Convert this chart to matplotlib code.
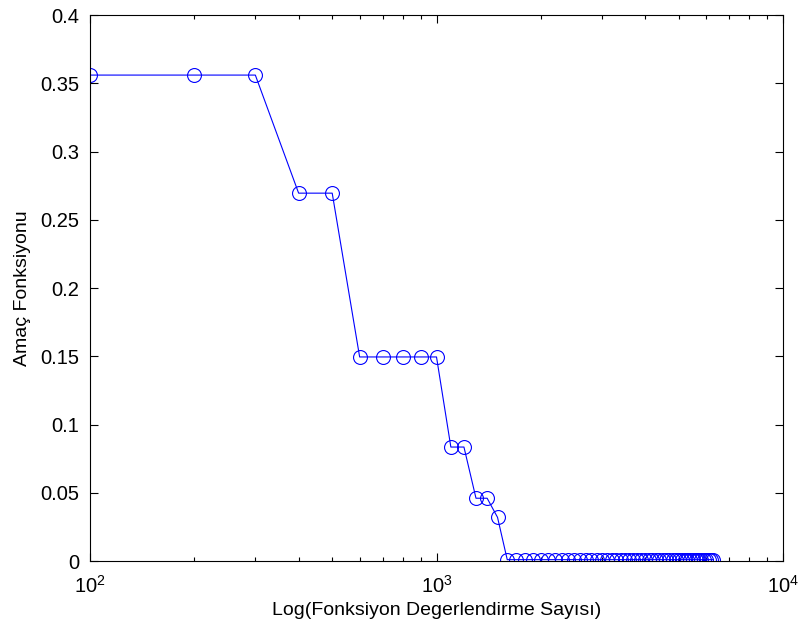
import numpy as np
import matplotlib
matplotlib.use('Agg')
import matplotlib.pyplot as plt
from matplotlib.ticker import FixedLocator, LogLocator, NullFormatter

plt.rcParams['font.family'] = ['Liberation Sans', 'DejaVu Sans']
plt.rcParams['mathtext.default'] = 'regular'

# degerlendirme sayilari ve amac fonksiyonu degerleri
evals = list(range(100, 6400, 100))
objective = ([0.356, 0.356, 0.356, 0.2695, 0.2695]
             + [0.1495] * 5
             + [0.0835, 0.0835, 0.046, 0.046, 0.032]
             + [0.001] * (len(evals) - 15))
y_ticks = [0, 0.05, 0.1, 0.15, 0.2, 0.25, 0.3, 0.35, 0.4]
y_tick_labels = ['0', '0.05', '0.1', '0.15', '0.2', '0.25', '0.3', '0.35', '0.4']

fig = plt.figure(figsize=(8.03, 6.31), dpi=100)
ax = fig.add_axes([0.1121, 0.1109, 0.8630, 0.8653])

ax.semilogx(evals, objective, color='#0000ff', lw=0.8, marker='o',
            markersize=10, markerfacecolor='none', markeredgewidth=0.8)

ax.set_xlim(100, 10000)
ax.set_ylim(0, 0.4)
ax.yaxis.set_major_locator(FixedLocator(y_ticks))
ax.set_yticklabels(y_tick_labels)
ax.xaxis.set_minor_locator(LogLocator(base=10, subs=np.arange(2, 10)))
ax.xaxis.set_minor_formatter(NullFormatter())

ax.tick_params(which='both', direction='in', top=True, right=True, labelsize=14.5)
ax.tick_params(which='major', length=6, width=0.8)
ax.tick_params(which='minor', length=3, width=0.8)
ax.tick_params(axis='y', pad=8)
ax.tick_params(axis='x', pad=10)
for s in ax.spines.values():
    s.set_linewidth(0.8)

ax.set_xlabel('Log(Fonksiyon Degerlendirme Sayısı)', fontsize=14, labelpad=4)
ax.set_ylabel('Amaç Fonksiyonu', fontsize=14, labelpad=6)

fig.savefig('out.png', dpi=100)
